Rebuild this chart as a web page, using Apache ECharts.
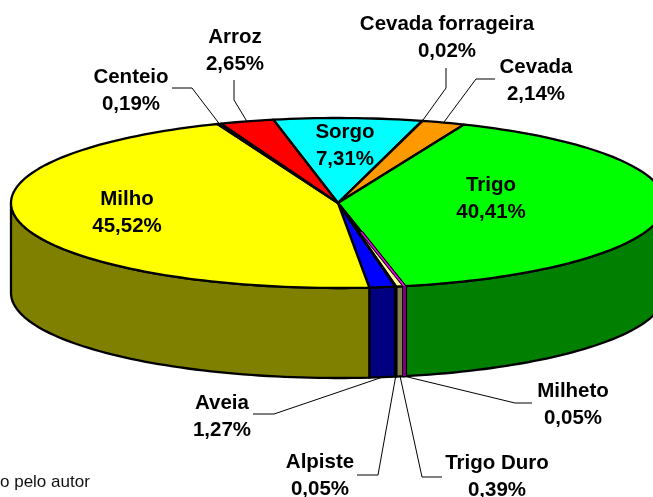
<!DOCTYPE html>
<html><head><meta charset="utf-8">
<style>html,body{margin:0;padding:0;background:#fff}#c{width:653px;height:497px}</style>
<script src="https://cdn.jsdelivr.net/npm/echarts@6/dist/echarts.min.js"></script>
</head><body><div id="c"></div>
<script>
// data, clockwise from the start angle
const categories = ['Sorgo','Cevada forrageira','Cevada','Trigo','Milheto','Trigo Duro','Alpiste','Aveia','Milho','Centeio','Arroz'];
const shares = [7.31,0.02,2.14,40.41,0.05,0.39,0.05,1.27,45.52,0.19,2.65];
// styles
const topColors = ['#00FFFF','#FFCC99','#FF9900','#00FF00','#FF00FF','#FFFF99','#000000','#0000FF','#FFFF00','#000000','#FF0000'];
const sideColors = ['#008080','#806650','#804C00','#007F00','#800080','#80804C','#000000','#000080','#808000','#000000','#800000'];
// layout
const geo = {cx:338, cy:203, a:327, b:85, depth:90, start:-11.4};
const labelAt = [[345,146],[447,38],[536,81],[491,199],[573,405],[497,477],[320,476],[222,417],[127,213],[131,91],[235,51]];
// elbow points of leader lines (null where the label sits on its slice)
const leaders = [null,[[446,88],[446,68]],[[476,79],[495,79]],null,[[515,403],[532,403]],[[422,477],[442,477]],[[378,475],[357,475]],[[274,414],[253,414]],null,[[192,88],[172,88]],[[234,100],[234,80]]];
// hair-thin slice kept visible as a coloured hairline over its outline
const hairline = 'Milheto';

const total = shares.reduce((s,v)=>s+v,0);
let run = geo.start;
const spans = shares.map(v=>{const t0=run; run+=v/total*360; return [t0,run];});
const rad = d=>d*Math.PI/180;
const pt = (t,dy=0)=>[geo.cx+geo.a*Math.sin(rad(t)), geo.cy-geo.b*Math.cos(rad(t))+dy];
function arc(t0,t1,dy=0){const n=Math.max(2,Math.ceil(Math.abs(t1-t0)/1.5));const o=[];for(let i=0;i<=n;i++)o.push(pt(t0+(t1-t0)*i/n,dy));return o;}
const mid = i=>(spans[i][0]+spans[i][1])/2;
const anchor = i=>{const m=mid(i); const f=((m%360)+360)%360; return (f>90&&f<270)?pt(m,geo.depth):pt(m);};

const rows = shares.map((v,i)=>[i,v]);
const stroke = {stroke:'#000',lineWidth:2.3,lineJoin:'round'};
const base = {type:'custom',coordinateSystem:'none',silent:true,animation:false,clip:false,data:rows};

const sideSeries = Object.assign({},base,{z:1,
 renderItem(p,api){const i=api.value(0);const a=Math.max(spans[i][0],90),b=Math.min(spans[i][1],270);
  if(b<=a) return {type:'group',children:[]};
  const pts=arc(a,b).concat(arc(b,a,geo.depth));
  return {type:'polygon',shape:{points:pts},style:Object.assign({fill:sideColors[i]},stroke)};}});
const topSeries = Object.assign({},base,{z:2,
 renderItem(p,api){const i=api.value(0);
  const pts=[[geo.cx,geo.cy]].concat(arc(spans[i][0],spans[i][1]));
  return {type:'polygon',shape:{points:pts},style:Object.assign({fill:topColors[i]},stroke)};}});
const hairSeries = Object.assign({},base,{z:3,
 renderItem(p,api){const i=api.value(0); if(categories[i]!==hairline) return {type:'group',children:[]};
  const rim=pt(mid(i)), foot=pt(mid(i),geo.depth), inner=[geo.cx+(rim[0]-geo.cx)*0.35,geo.cy+(rim[1]-geo.cy)*0.35];
  const line=(a,b,c,w)=>({type:'line',shape:{x1:a[0],y1:a[1],x2:b[0],y2:b[1]},style:{stroke:c,lineWidth:w}});
  return {type:'group',children:[
   line(rim,foot,'#000',5), line(rim,foot,sideColors[i],3),
   line(inner,rim,'#000',3.5), line(inner,rim,topColors[i],1.5)]};}});
const leaderSeries = Object.assign({},base,{z:4,
 renderItem(p,api){const i=api.value(0); if(!leaders[i]) return {type:'group',children:[]};
  return {type:'polyline',shape:{points:[anchor(i)].concat(leaders[i])},style:{stroke:'#000',lineWidth:1,fill:null}};}});
const labelSeries = Object.assign({},base,{z:5,
 renderItem(p,api){const i=api.value(0);
  return {type:'text',x:labelAt[i][0],y:labelAt[i][1],style:{text:categories[i]+'\n'+api.value(1).toFixed(2).replace('.',',')+'%',
   font:'bold 20.5px "Liberation Sans"',lineHeight:27,fill:'#000',align:'center',verticalAlign:'middle'}};}});

const chart = echarts.init(document.getElementById('c'),null,{renderer:'canvas'});
chart.setOption({animation:false,backgroundColor:'#fff',
 series:[sideSeries,topSeries,hairSeries,leaderSeries,labelSeries],
 graphic:[{type:'text',left:0,top:474,style:{text:'o pelo autor',font:'17px "Liberation Sans"',fill:'#111'}}]});
</script></body></html>
